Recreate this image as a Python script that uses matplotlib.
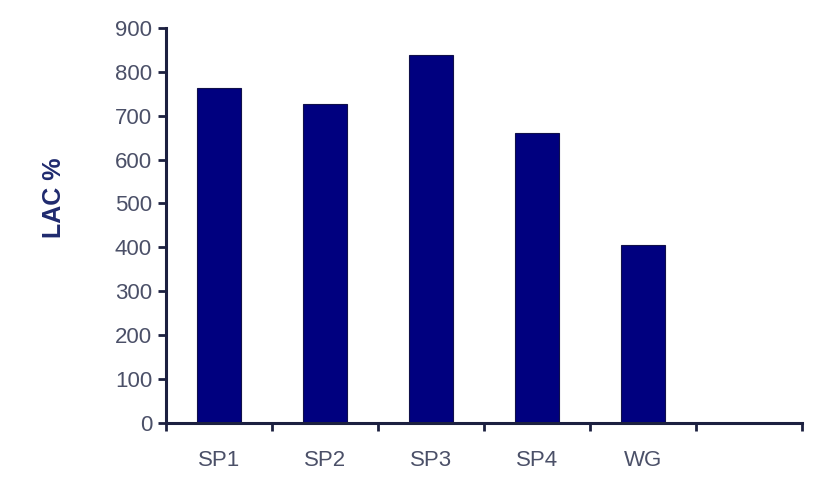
import matplotlib
matplotlib.use("Agg")
import matplotlib.pyplot as plt
import numpy as np

categories = ["SP1", "SP2", "SP3", "SP4", "WG", ""]
lac_values = [763, 727, 838, 660, 405, np.nan]
y_ticks = [0, 100, 200, 300, 400, 500, 600, 700, 800, 900]

plt.rcParams["font.family"] = ["Liberation Sans", "DejaVu Sans"]

fig = plt.figure(figsize=(8.38, 4.87), dpi=100)
ax = fig.add_axes([0.198, 0.132, 0.759, 0.8105])

x = np.arange(len(categories))
ax.bar(x, lac_values, width=0.41, color="#00007f", edgecolor="#10104a", linewidth=0.8)

ax.set_xlim(-0.5, len(categories) - 0.5)
ax.set_ylim(0, 900)
ax.set_yticks(y_ticks)

# category labels at bar centres, tick marks on category boundaries
ax.set_xticks(x)
ax.set_xticklabels(categories)
ax.set_xticks(np.arange(-0.5, len(categories)), minor=True)
ax.tick_params(axis="x", which="major", length=0, pad=20, labelsize=16, labelcolor="#4b5068")
ax.tick_params(axis="x", which="minor", length=6, width=2, color="#1c2040", direction="out")
ax.tick_params(axis="y", length=6, width=2, color="#1c2040", direction="out",
               labelsize=16, labelcolor="#4b5068", pad=4)

for side in ("top", "right"):
    ax.spines[side].set_visible(False)
for side in ("left", "bottom"):
    ax.spines[side].set_linewidth(2.2)
    ax.spines[side].set_color("#1c2040")

ax.set_ylabel("LAC %", fontsize=18, fontweight="bold", color="#1f2a6e")
ax.yaxis.set_label_coords(-0.157, 0.569)

fig.savefig("out.png", dpi=100, facecolor="white")
